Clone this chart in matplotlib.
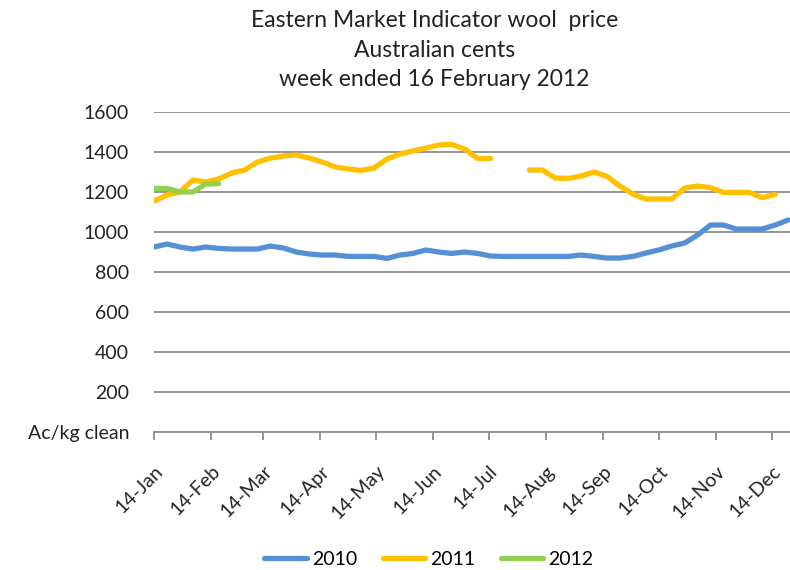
import pandas as pd
import numpy as np
import matplotlib
matplotlib.use('Agg')
import matplotlib.pyplot as plt
import matplotlib.dates as mdates

plt.rcParams['font.family'] = ['Lato', 'DejaVu Sans']

# weekly sale dates (one common year used just for the axis)
weeks = pd.date_range('2011-01-14', periods=50, freq='7D')

price_2010 = [925, 940, 925, 915, 925, 918, 915, 915, 915, 930,
              920, 900, 890, 885, 885, 878, 878, 878, 868, 885,
              893, 910, 900, 893, 900, 893, 880, 878, 878, 878,
              878, 878, 878, 885, 878, 870, 870, 878, 895, 910,
              930, 945, 985, 1035, 1035, 1015, 1015, 1015, 1035, 1060]

price_2011 = [1155, 1185, 1200, 1260, 1250, 1265, 1295, 1310, 1350, 1370,
              1380, 1385, 1370, 1350, 1325, 1315, 1308, 1320, 1365, 1390,
              1405, 1420, 1435, 1438, 1415, 1368, 1368, np.nan, np.nan, 1310,
              1310, 1270, 1268, 1280, 1300, 1278, 1230, 1190, 1165, 1165,
              1165, 1220, 1230, 1222, 1198, 1198, 1198, 1172, 1188]

price_2012 = [1218, 1218, 1200, 1200, 1240, 1242]

series = [('2010', price_2010, '#5590D6'),
          ('2011', price_2011, '#FFC000'),
          ('2012', price_2012, '#92D050')]

fig = plt.figure(figsize=(7.9, 5.7), dpi=100)
ax = fig.add_axes([0.195, 0.242, 0.805, 0.5615])

for name, vals, col in series:
    ax.plot(weeks[:len(vals)], vals, color=col, linewidth=3.8, label=name,
            solid_capstyle='round', solid_joinstyle='round')

ax.set_ylim(0, 1600)
ax.set_yticks(range(0, 1601, 200))
ax.set_yticklabels(['Ac/kg clean'] + [str(v) for v in range(200, 1601, 200)])
ax.set_xlim(weeks[0], weeks[-1] + pd.Timedelta(days=1))

ax.xaxis.set_major_locator(mdates.MonthLocator(bymonthday=14))
ax.xaxis.set_major_formatter(mdates.DateFormatter('%d-%b'))
plt.setp(ax.get_xticklabels(), rotation=45, ha='right', rotation_mode='anchor')

ax.grid(axis='y', color='#8c8c8c', linewidth=1.3)
ax.set_axisbelow(True)
for s in ['top', 'right', 'left']:
    ax.spines[s].set_visible(False)
ax.spines['bottom'].set_color('#8c8c8c')
ax.spines['bottom'].set_linewidth(1.3)
ax.tick_params(axis='y', length=0, labelsize=14, pad=18, labelcolor='#222222')
ax.tick_params(axis='x', direction='out', length=6, color='#8c8c8c', width=1.3,
               labelsize=14, pad=16, labelcolor='#222222')

fig.text(0.55, 0.982, 'Eastern Market Indicator wool  price\nAustralian cents\nweek ended 16 February 2012',
         ha='center', va='top', fontsize=16.5, linespacing=1.5, color='#222222')

fig.legend(loc='center', bbox_to_anchor=(0.543, 0.018), ncol=3, frameon=False,
           fontsize=14, handlelength=2.2, columnspacing=1.3, handletextpad=0.25)

fig.savefig('out.png', dpi=100)
